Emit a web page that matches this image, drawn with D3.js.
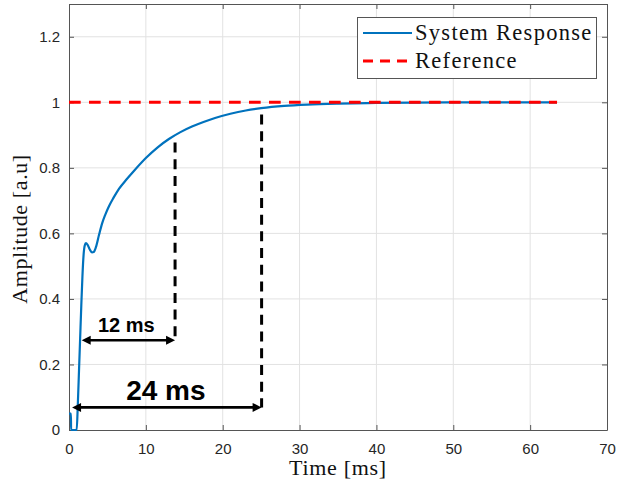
<!DOCTYPE html>
<html>
<head>
<meta charset="utf-8">
<script src="https://cdn.jsdelivr.net/npm/d3@7"></script>
<style>
  html, body { margin: 0; padding: 0; background: #fff; }
  svg { display: block; }
</style>
</head>
<body>
<script>
// ---- data ----
const timeMs = [0, 0.25, 0.27, 1.0, 1.15, 1.3, 1.45, 1.6, 1.75, 1.9, 2.05, 2.2, 2.4, 2.7, 3.0, 3.2, 3.5, 3.9, 4.3, 4.7, 5.2, 5.8, 6.5, 7.5, 8.5, 10, 11.5, 13, 14.5, 16, 17.5, 19, 21, 23, 25, 28, 31, 35, 40, 45, 50, 55, 63.5];
const response = [0.05, 0.05, 0, 0, 0.08, 0.18, 0.28, 0.38, 0.47, 0.535, 0.563, 0.57, 0.566, 0.551, 0.542, 0.543, 0.558, 0.595, 0.63, 0.656, 0.683, 0.709, 0.736, 0.765, 0.792, 0.830, 0.862, 0.888, 0.909, 0.926, 0.940, 0.952, 0.965, 0.975, 0.982, 0.989, 0.993, 0.996, 0.998, 0.999, 1.0, 1.0, 1.0];
const refTime = [0, 63.5];
const refValue = [1, 1];
const xTicks = [0, 10, 20, 30, 40, 50, 60, 70];
const yTicks = [0, 0.2, 0.4, 0.6, 0.8, 1.0, 1.2];
const legendLabels = ["System Response", "Reference"];
// annotations (data coordinates)
const markerTimes = [13.8, 25.06];      // vertical dashed lines
const markerTops = [0.877, 0.963];
const markerBottoms = [0.274, 0.069];
const arrowStarts = [1.65, 0.4];
const arrowLabels = ["12 ms", "24 ms"];
const labelTimes = [7.45, 12.6];
const labelOffsets = [0.026, 0.022];

// ---- layout ----
const W = 617, H = 489;
const L = 69, R = 607, T = 4, B = 430;
const svg = d3.select("body").append("svg").attr("width", W).attr("height", H);
const x = d3.scaleLinear().domain([0, 70]).range([L, R]);
const y = d3.scaleLinear().domain([0, 1.3]).range([B, T]);
const axisColor = "#262626";

// grid
const grid = svg.append("g");
grid.selectAll("line.vx").data(xTicks.filter(d => d > 0 && d < 70)).enter().append("line")
  .attr("x1", d => x(d)).attr("x2", d => x(d)).attr("y1", T).attr("y2", B)
  .attr("stroke", "#e2e2e2").attr("stroke-width", 1);
grid.selectAll("line.hy").data(yTicks.filter(d => d > 0)).enter().append("line")
  .attr("x1", L).attr("x2", R).attr("y1", d => y(d)).attr("y2", d => y(d))
  .attr("stroke", "#e2e2e2").attr("stroke-width", 1);

// axes
const fmt = d => d3.format("~g")(d);
const xAxis = svg.append("g").attr("transform", `translate(0,${B})`)
  .call(d3.axisBottom(x).tickValues(xTicks).tickFormat(fmt).tickSizeInner(-5).tickSizeOuter(0).tickPadding(13));
const yAxis = svg.append("g").attr("transform", `translate(${L},0)`)
  .call(d3.axisLeft(y).tickValues(yTicks).tickFormat(fmt).tickSizeInner(-5).tickSizeOuter(0).tickPadding(9));
const xTop = svg.append("g").attr("transform", `translate(0,${T})`)
  .call(d3.axisTop(x).tickValues(xTicks).tickFormat("").tickSizeInner(-5).tickSizeOuter(0));
const yRight = svg.append("g").attr("transform", `translate(${R},0)`)
  .call(d3.axisRight(y).tickValues(yTicks).tickFormat("").tickSizeInner(-5).tickSizeOuter(0));
[xAxis, yAxis, xTop, yRight].forEach(g => {
  g.select(".domain").attr("stroke", "#555").attr("stroke-width", 1);
  g.selectAll(".tick line").attr("stroke", "#555");
  g.selectAll(".tick text").attr("fill", axisColor)
    .style("font-family", "'Liberation Sans', Arial, sans-serif").style("font-size", "15px");
});

// axis titles
svg.append("text").attr("x", (L + R) / 2).attr("y", 475).attr("text-anchor", "middle")
  .style("font-family", "'Liberation Serif', 'Times New Roman', serif").style("font-size", "22px")
  .style("letter-spacing", "0.7px").attr("fill", "#111").text("Time [ms]");
svg.append("text").attr("transform", `translate(27,${(T + B) / 2 + 12}) rotate(-90)`).attr("text-anchor", "middle")
  .style("font-family", "'Liberation Serif', 'Times New Roman', serif").style("font-size", "22px")
  .style("letter-spacing", "0.6px").attr("fill", "#111").text("Amplitude [a.u]");

const refLine = d3.line().x(d => x(d[0])).y(d => y(d[1]));
const refData = refTime.map((t, i) => [t, refValue[i]]);

// response curve
const respData = timeMs.map((t, i) => [t, response[i]]);
svg.append("path").datum(respData)
  .attr("d", d3.line().x(d => x(d[0])).y(d => y(d[1])).curve(d3.curveMonotoneX))
  .attr("fill", "none").attr("stroke", "#0072BD").attr("stroke-width", 2.2);

// reference line (drawn on top)
svg.append("path").datum(refData)
  .attr("d", refLine)
  .attr("fill", "none").attr("stroke", "#ff0000").attr("stroke-width", 3)
  .attr("stroke-dasharray", "11.7,8.3");

// annotations
const ann = svg.append("g");
markerTimes.forEach((t, i) => {
  ann.append("line").attr("x1", x(t)).attr("x2", x(t)).attr("y1", y(markerTops[i])).attr("y2", y(markerBottoms[i]))
    .attr("stroke", "#000").attr("stroke-width", 3).attr("stroke-dasharray", "10,6.7");
  const yy = y(markerBottoms[i]);
  const x0 = x(arrowStarts[i]), x1 = x(t);
  const hl = 9, hw = 4.5;
  ann.append("line").attr("x1", x0 + hl - 1).attr("x2", x1 - hl + 1).attr("y1", yy).attr("y2", yy)
    .attr("stroke", "#000").attr("stroke-width", 2.6);
  ann.append("path").attr("d", `M${x0},${yy} L${x0 + hl},${yy - hw} L${x0 + hl},${yy + hw} Z`).attr("fill", "#000");
  ann.append("path").attr("d", `M${x1},${yy} L${x1 - hl},${yy - hw} L${x1 - hl},${yy + hw} Z`).attr("fill", "#000");
  ann.append("text").attr("x", x(labelTimes[i])).attr("y", y(markerBottoms[i] + labelOffsets[i]))
    .attr("text-anchor", "middle")
    .style("font-family", "'Liberation Sans', Arial, sans-serif").style("font-weight", "bold")
    .style("font-size", i === 0 ? "20px" : "28px").attr("fill", "#000").text(arrowLabels[i]);
});

// legend
const lg = svg.append("g");
lg.append("rect").attr("x", 357.5).attr("y", 17.5).attr("width", 239).attr("height", 61)
  .attr("fill", "#fff").attr("stroke", "#555").attr("stroke-width", 1);
lg.append("line").attr("x1", 363).attr("x2", 412).attr("y1", 33).attr("y2", 33)
  .attr("stroke", "#0072BD").attr("stroke-width", 2.2);
lg.append("line").attr("x1", 363).attr("x2", 412).attr("y1", 61).attr("y2", 61)
  .attr("stroke", "#ff0000").attr("stroke-width", 3).attr("stroke-dasharray", "10,7");
legendLabels.forEach((s, i) => {
  lg.append("text").attr("x", 415).attr("y", 40 + i * 27.5)
    .style("font-family", "'Liberation Serif', 'Times New Roman', serif").style("font-size", "22.5px")
    .style("letter-spacing", "1.3px").attr("fill", "#111").text(s);
});
</script>
</body>
</html>
